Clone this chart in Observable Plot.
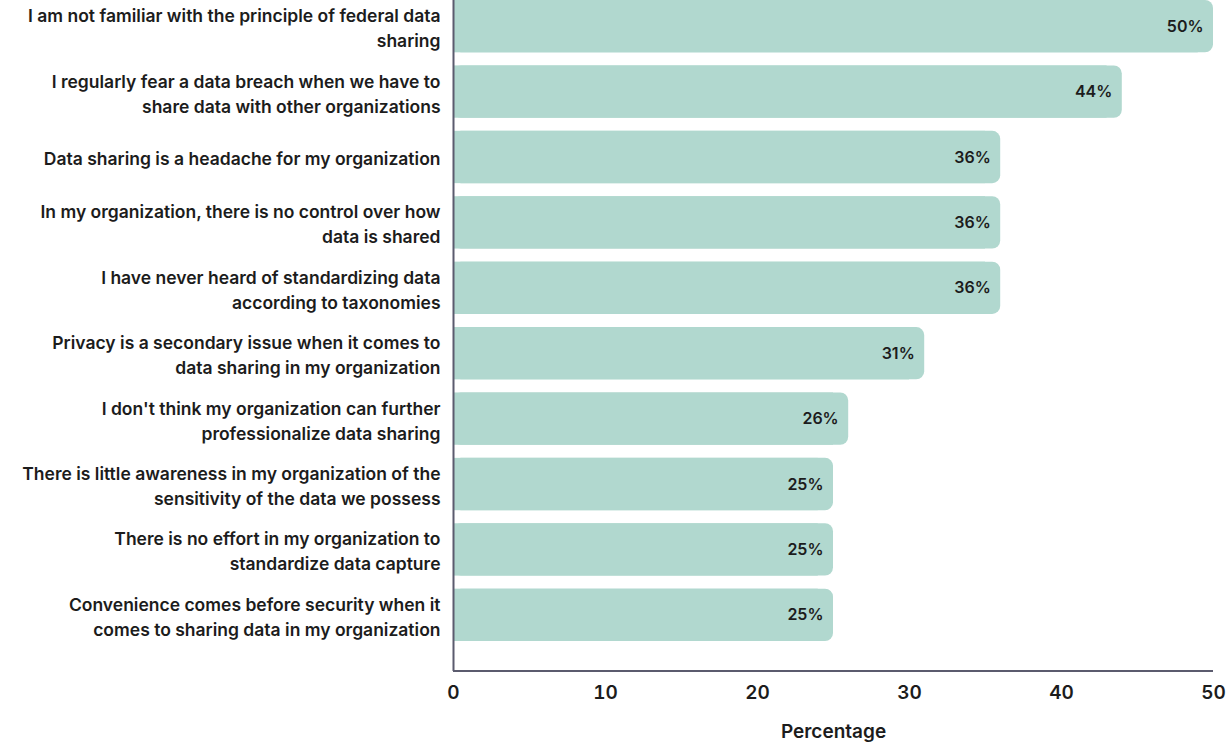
<!DOCTYPE html>
<html>
<head>
<meta charset="utf-8">
<script src="https://cdn.jsdelivr.net/npm/d3@7"></script>
<script src="https://cdn.jsdelivr.net/npm/@observablehq/plot@0.6"></script>
<style>
  html, body { margin: 0; padding: 0; background: #fff; }
  #chart svg { display: block; }
</style>
</head>
<body>
<div id="chart"></div>
<script>
const categories = [
  "I am not familiar with the principle of federal data\nsharing",
  "I regularly fear a data breach when we have to\nshare data with other organizations",
  "Data sharing is a headache for my organization",
  "In my organization, there is no control over how\ndata is shared",
  "I have never heard of standardizing data\naccording to taxonomies",
  "Privacy is a secondary issue when it comes to\ndata sharing in my organization",
  "I don't think my organization can further\nprofessionalize data sharing",
  "There is little awareness in my organization of the\nsensitivity of the data we possess",
  "There is no effort in my organization to\nstandardize data capture",
  "Convenience comes before security when it\ncomes to sharing data in my organization"
];
const values = [50, 44, 36, 36, 36, 31, 26, 25, 25, 25];
const xTicks = [0, 10, 20, 30, 40, 50];

const data = categories.map((c, i) => ({category: c, value: values[i]}));

const barColor = "#b1d8cf";
const axisColor = "#5b5b6e";
const textColor = "#1c1c1c";
const font = "Inter, 'Open Sans', sans-serif";

const bottomLine = (index, scales, values, dims) => {
  const g = d3.create("svg:g");
  const y = dims.height - dims.marginBottom;
  g.append("line")
    .attr("x1", scales.x(0)).attr("x2", scales.x(50))
    .attr("y1", y).attr("y2", y)
    .attr("stroke", axisColor).attr("stroke-width", 2);
  return g.node();
};

const chart = Plot.plot({
  width: 1229,
  height: 742,
  marginLeft: 453,
  marginRight: 16,
  marginTop: 0,
  marginBottom: 71,
  style: {fontFamily: font, color: textColor, background: "#fff"},
  x: {domain: [0, 50], label: null},
  y: {domain: categories, range: [0, 641], paddingInner: 0.2, paddingOuter: 0, round: false, label: null},
  marks: [
    Plot.barX(data, {x1: 0, x2: "value", y: "category", fill: barColor, rx: 8}),
    Plot.barX(data, {x1: 0, x2: d => d.value - 1, y: "category", fill: barColor}),
    Plot.text(data, {x: "value", y: "category", text: d => d.value + "%", textAnchor: "end", dx: -10, fontSize: 16, fontWeight: 600, fill: textColor}),
    Plot.ruleX([0], {stroke: axisColor, strokeWidth: 2}),
    bottomLine,
    Plot.axisY({tickSize: 0, tickPadding: 13, fontSize: 17.5, fontWeight: 600, lineHeight: 1.43, label: null, fill: textColor}),
    Plot.axisX({ticks: xTicks, tickSize: 0, tickPadding: 14, fontSize: 19, fontWeight: 600, label: "Percentage", labelArrow: "none", labelAnchor: "center", labelOffset: 66, fill: textColor})
  ]
});
document.getElementById("chart").appendChild(chart);
</script>
</body>
</html>
